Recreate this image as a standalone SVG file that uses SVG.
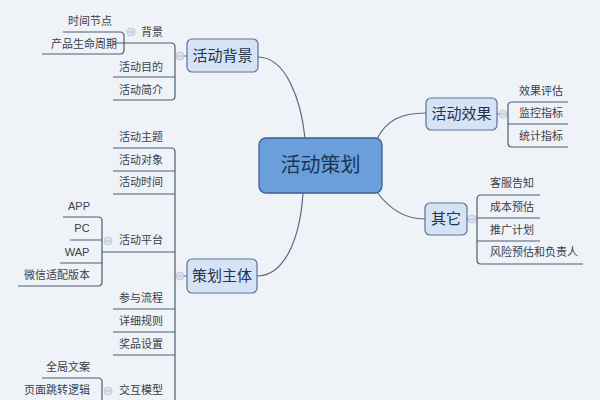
<svg xmlns="http://www.w3.org/2000/svg" width="600" height="400" viewBox="0 0 600 400">
<style>
.bg{fill:#eff2f7}
.ln{fill:none;stroke:#4f5f75;stroke-width:1.2}
.cv{fill:none;stroke:#5a6c85;stroke-width:1.2}
.t{font-family:"Noto Sans CJK SC","Liberation Sans",sans-serif;font-size:11px;fill:#3a3f48}
.tl{font-family:"Liberation Sans","Noto Sans CJK SC",sans-serif;font-size:11px;fill:#3a3f48}
.mb{fill:#d6e3f6;stroke:#5b7597;stroke-width:1.2}
.mt{font-family:"Noto Sans CJK SC",sans-serif;font-size:15px;fill:#22324a;text-anchor:middle}
.cb{fill:#6a9fdb;stroke:#3c5f8c;stroke-width:1.3}
.ct{font-family:"Noto Sans CJK SC",sans-serif;font-size:20px;fill:#1b3556;text-anchor:middle}
.m{text-anchor:middle}
.s{text-anchor:start}
.col circle{fill:#dbe4f1;stroke:#b3c1d6;stroke-width:0.8}
.col line{stroke:#9fb0c8;stroke-width:0.8}
</style>
<rect class="bg" x="0" y="0" width="600" height="400"/>

<g id="connectors">
  <path class="cv" d="M258,57 C286,57 301,100 305,138"/>
  <path class="cv" d="M303,193 C300,240 284,276 257,276"/>
  <path class="cv" d="M377,139 C386,121 400,113 426,113"/>
  <path class="cv" d="M377,192 C390,210 405,219 425,219"/>
  <!-- 活动背景 bracket -->
  <path class="ln" d="M113,43 H171 Q175,43 175,47 V96 Q175,100 171,100 H113"/>
  <path class="ln" d="M113,77 H175 M175,56 H187"/>
  <!-- 背景 bracket -->
  <path class="ln" d="M63,32 H120 Q124,32 124,36 V50 Q124,54 120,54 H42"/>
  <!-- 策划主体 bracket -->
  <path class="ln" d="M113,148 H171 Q175,148 175,152 V400"/>
  <path class="ln" d="M113,171 H175 M113,194 H175 M102,252 H175 M113,309 H175 M113,332 H175 M113,355 H175 M102,401 H175 M175,276 H187"/>
  <!-- 活动平台 bracket -->
  <path class="ln" d="M63,217 H98 Q102,217 102,221 V282 Q102,286 98,286 H18"/>
  <path class="ln" d="M70,240 H102 M60,263 H102"/>
  <!-- 交互模型 bracket -->
  <path class="ln" d="M42,378 H98 Q102,378 102,382 V400"/>
  <!-- 活动效果 bracket -->
  <path class="ln" d="M568,102 H512 Q508,102 508,106 V143 Q508,147 512,147 H568"/>
  <path class="ln" d="M508,124 H568 M497,114 H508"/>
  <!-- 其它 bracket -->
  <path class="ln" d="M540,195 H481 Q477,195 477,199 V260 Q477,264 481,264 H583"/>
  <path class="ln" d="M477,218 H540 M477,241 H540 M467,219 H477"/>
</g>

<g class="col">
  <g><circle cx="180" cy="56" r="4"/><line x1="177.5" y1="56" x2="182.5" y2="56"/></g>
  <g><circle cx="131" cy="32" r="4"/><line x1="128.5" y1="32" x2="133.5" y2="32"/></g>
  <g><circle cx="180" cy="276" r="4"/><line x1="177.5" y1="276" x2="182.5" y2="276"/></g>
  <g><circle cx="108" cy="241" r="4"/><line x1="105.5" y1="241" x2="110.5" y2="241"/></g>
  <g><circle cx="108" cy="391" r="4"/><line x1="105.5" y1="391" x2="110.5" y2="391"/></g>
  <g><circle cx="503" cy="114" r="4"/><line x1="500.5" y1="114" x2="505.5" y2="114"/></g>
  <g><circle cx="472" cy="219" r="4"/><line x1="469.5" y1="219" x2="474.5" y2="219"/></g>
</g>

<g id="n-center"><rect class="cb" x="259" y="138" width="123" height="55" rx="7"/><text class="ct" x="320.5" y="172">活动策划</text></g>

<g id="n-bg"><rect class="mb" x="187" y="39" width="71" height="33" rx="5"/><text class="mt" x="222.5" y="61">活动背景</text></g>
<g id="n-zt"><rect class="mb" x="187" y="259" width="70" height="34" rx="5"/><text class="mt" x="222" y="281">策划主体</text></g>
<g id="n-xg"><rect class="mb" x="426" y="98" width="71" height="32" rx="5"/><text class="mt" x="461.5" y="119">活动效果</text></g>
<g id="n-qt"><rect class="mb" x="425" y="203" width="42" height="32" rx="5"/><text class="mt" x="446" y="224">其它</text></g>

<g id="n-beijing"><text class="t m" x="152" y="36">背景</text></g>
<g id="n-sjjd"><text class="t m" x="90" y="25">时间节点</text></g>
<g id="n-cpsm"><text class="t m" x="84" y="48">产品生命周期</text></g>
<g id="n-hdmd"><text class="t m" x="141" y="71">活动目的</text></g>
<g id="n-hdjj"><text class="t m" x="141" y="94">活动简介</text></g>

<g id="n-hdzt"><text class="t m" x="141" y="141">活动主题</text></g>
<g id="n-hddx"><text class="t m" x="141" y="164">活动对象</text></g>
<g id="n-hdsj"><text class="t m" x="141" y="186">活动时间</text></g>
<g id="n-hdpt"><text class="t m" x="141" y="244">活动平台</text></g>
<g id="n-app"><text class="tl m" x="79" y="210">APP</text></g>
<g id="n-pc"><text class="tl m" x="82" y="232">PC</text></g>
<g id="n-wap"><text class="tl m" x="77" y="256">WAP</text></g>
<g id="n-wx"><text class="t m" x="57" y="279">微信适配版本</text></g>
<g id="n-cylc"><text class="t m" x="141" y="302">参与流程</text></g>
<g id="n-xxgz"><text class="t m" x="141" y="325">详细规则</text></g>
<g id="n-jpsz"><text class="t m" x="141" y="348">奖品设置</text></g>
<g id="n-jhmx"><text class="t m" x="141" y="394">交互模型</text></g>
<g id="n-qjwa"><text class="t m" x="68" y="371">全局文案</text></g>
<g id="n-ymtz"><text class="t m" x="57" y="394">页面跳转逻辑</text></g>

<g id="n-xgpg"><text class="t s" x="519" y="95">效果评估</text></g>
<g id="n-jkzb"><text class="t s" x="519" y="117">监控指标</text></g>
<g id="n-tjzb"><text class="t s" x="519" y="140">统计指标</text></g>

<g id="n-kfgz"><text class="t s" x="490" y="187">客服告知</text></g>
<g id="n-cbyg"><text class="t s" x="490" y="211">成本预估</text></g>
<g id="n-tgjh"><text class="t s" x="490" y="234">推广计划</text></g>
<g id="n-fxyg"><text class="t s" x="490" y="256">风险预估和负责人</text></g>
</svg>
